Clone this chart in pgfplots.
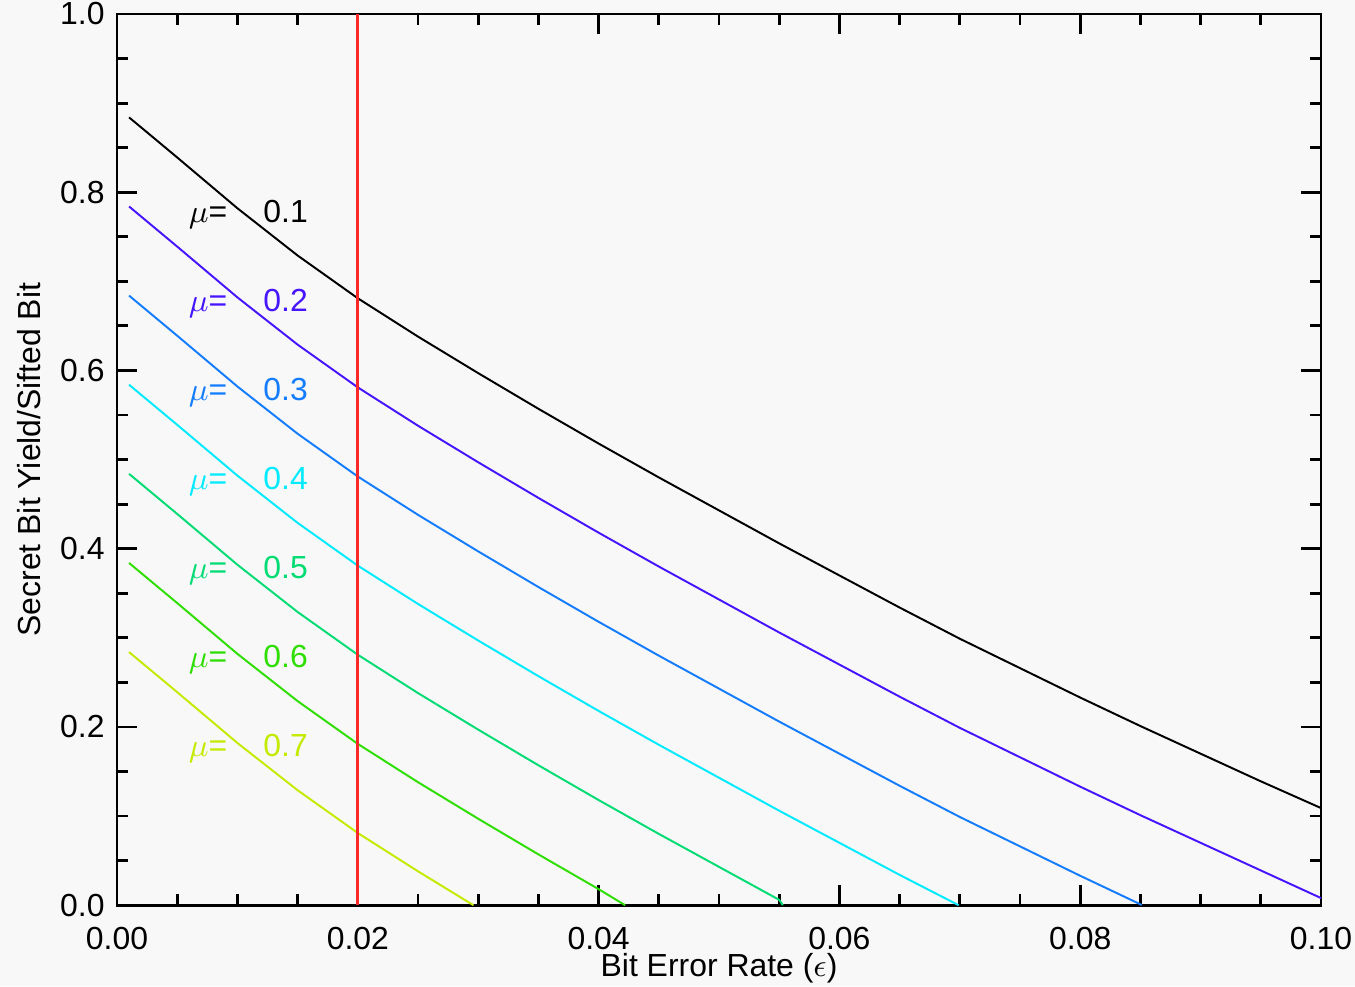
\documentclass[border=0pt]{standalone}
\usepackage{fontspec}
\setmainfont{Liberation Sans}
\usepackage{xcolor}
\usepackage{pgfplots}
\pgfplotsset{compat=1.18}
\definecolor{bgc}{RGB}{248,248,248}
\definecolor{ctwo}{RGB}{70,20,255}
\definecolor{cthree}{RGB}{20,125,255}
\definecolor{cfour}{RGB}{0,235,255}
\definecolor{cfive}{RGB}{0,220,115}
\definecolor{csix}{RGB}{45,222,0}
\definecolor{cseven}{RGB}{195,235,0}
\definecolor{cred}{RGB}{250,40,40}
\pagecolor{bgc}

\begin{document}
\begin{tikzpicture}
\begin{axis}[
    name=ax,
    scale only axis,
    width=339.5pt, height=251.3pt,
    xmin=0, xmax=0.1, ymin=0, ymax=1,
    xtick={0,0.02,0.04,0.06,0.08,0.1},
    ytick={0,0.2,0.4,0.6,0.8,1},
    minor x tick num=3, minor y tick num=3,
    scaled x ticks=false, scaled y ticks=false,
    tick align=inside,
    major tick length=5.6pt, minor tick length=3.1pt,
    every tick/.style={black, line width=0.8pt},
    axis line style={black, line width=0.8pt},
    tick label style={font=\fontsize{9}{10}\selectfont, /pgf/number format/assume math mode=true},
    xticklabel style={/pgf/number format/.cd, fixed, fixed zerofill, precision=2, /tikz/.cd, yshift=-2.6pt},
    yticklabel style={/pgf/number format/.cd, fixed, fixed zerofill, precision=1},
    xlabel={Bit Error Rate ($\epsilon$)},
    ylabel={Secret Bit Yield/Sifted Bit},
    label style={font=\fontsize{9}{10}\selectfont},
    xlabel style={at={(axis description cs:0.5,-0.071)}, anchor=center},
    ylabel style={at={(axis description cs:-0.073,0.5)}, anchor=center},
    clip=false,
]
% mu = 0.1
\addplot[black, line width=0.55pt] coordinates {
(0.001,0.884) (0.005,0.839) (0.010,0.782) (0.015,0.729) (0.020,0.681)
(0.025,0.638) (0.030,0.597) (0.035,0.557) (0.040,0.518) (0.045,0.480)
(0.050,0.443) (0.055,0.406) (0.060,0.370) (0.065,0.334) (0.070,0.299)
(0.075,0.266) (0.080,0.233) (0.085,0.201) (0.090,0.170) (0.095,0.139)
(0.100,0.109)};
% mu = 0.2
\addplot[ctwo, line width=0.55pt] coordinates {
(0.001,0.784) (0.005,0.739) (0.010,0.682) (0.015,0.629) (0.020,0.581)
(0.025,0.538) (0.030,0.497) (0.035,0.457) (0.040,0.418) (0.045,0.380)
(0.050,0.343) (0.055,0.306) (0.060,0.270) (0.065,0.234) (0.070,0.199)
(0.075,0.166) (0.080,0.133) (0.085,0.101) (0.090,0.070) (0.095,0.039)
(0.100,0.008)};
% mu = 0.3
\addplot[cthree, line width=0.55pt] coordinates {
(0.001,0.684) (0.005,0.639) (0.010,0.582) (0.015,0.529) (0.020,0.481)
(0.025,0.438) (0.030,0.397) (0.035,0.357) (0.040,0.318) (0.045,0.280)
(0.050,0.243) (0.055,0.206) (0.060,0.170) (0.065,0.134) (0.070,0.099)
(0.075,0.066) (0.080,0.033) (0.085,0.001) (0.0851,0.0)};
% mu = 0.4
\addplot[cfour, line width=0.55pt] coordinates {
(0.001,0.584) (0.005,0.539) (0.010,0.482) (0.015,0.429) (0.020,0.381)
(0.025,0.338) (0.030,0.297) (0.035,0.257) (0.040,0.218) (0.045,0.180)
(0.050,0.143) (0.055,0.106) (0.060,0.070) (0.065,0.034) (0.0699,0.0)};
% mu = 0.5
\addplot[cfive, line width=0.55pt] coordinates {
(0.001,0.484) (0.005,0.439) (0.010,0.382) (0.015,0.329) (0.020,0.281)
(0.025,0.238) (0.030,0.197) (0.035,0.157) (0.040,0.118) (0.045,0.080)
(0.050,0.043) (0.055,0.006) (0.0553,0.0)};
% mu = 0.6
\addplot[csix, line width=0.55pt] coordinates {
(0.001,0.384) (0.005,0.339) (0.010,0.282) (0.015,0.229) (0.020,0.181)
(0.025,0.138) (0.030,0.097) (0.035,0.057) (0.040,0.018) (0.0422,0.0)};
% mu = 0.7
\addplot[cseven, line width=0.55pt] coordinates {
(0.001,0.284) (0.005,0.239) (0.010,0.182) (0.015,0.129) (0.020,0.081)
(0.025,0.038) (0.0296,0.0)};
% epsilon = 0.02
\addplot[cred, line width=0.8pt] coordinates {(0.02,0) (0.02,1)};

\foreach \k/\c/\v in {0/black/0.1,1/ctwo/0.2,2/cthree/0.3,3/cfour/0.4,4/cfive/0.5,5/csix/0.6,6/cseven/0.7}{
  \edef\temp{\noexpand\node[anchor=base west, inner sep=0, text=\c, font=\noexpand\fontsize{9}{10}\noexpand\selectfont]
    at (axis cs:0.0059,{0.7665-0.1*\k}) {$\noexpand\mu$=};
  \noexpand\node[anchor=base west, inner sep=0, text=\c, font=\noexpand\fontsize{9}{10}\noexpand\selectfont]
    at (axis cs:0.0121,{0.7665-0.1*\k}) {\v};}
  \temp
}
\end{axis}
\pgfresetboundingbox
\path[use as bounding box] ([xshift=-33pt,yshift=-22.84pt]ax.south west) rectangle ([xshift=9.59pt,yshift=3.95pt]ax.north east);
\end{tikzpicture}
\end{document}
